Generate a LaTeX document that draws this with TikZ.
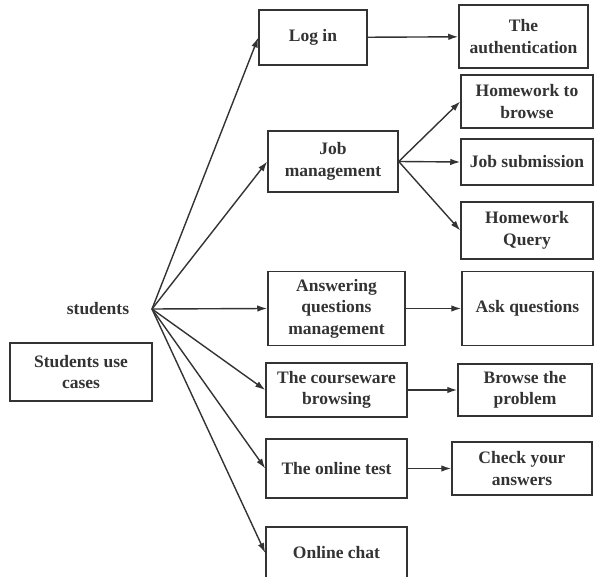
\documentclass[tikz,border=0pt]{standalone}
\usepackage{fontspec}
\setmainfont{Liberation Serif}
\usetikzlibrary{arrows.meta}

\tikzset{
  box/.style={draw=black!80, line width=1.5pt, align=center, inner sep=0pt,
    font=\bfseries\fontsize{17.5}{21.5}\selectfont, text=black!80},
  link/.style={draw=black!80, line width=1.4pt, -{Latex[length=10pt,width=6.5pt]}},
}

\begin{document}
\begin{tikzpicture}[x=1pt,y=-1pt]
\clip (0,0) rectangle (595,577);
\useasboundingbox (0,0) rectangle (595,577);
\node[font=\bfseries\fontsize{17.5}{21.5}\selectfont, text=black!80] (students) at (98,309) {students};
\coordinate (hub) at (152,309);
\node[box, minimum width=142, minimum height=58] (usecases) at (81,372) {Students use\\cases};

\node[box, minimum width=108, minimum height=55] (login) at (313,37.5) {Log in};
\node[box, minimum width=130, minimum height=61] (job) at (333,161.5) {Job\\management};
\node[box, minimum width=137, minimum height=74] (answer) at (336.5,308.5) {Answering\\questions\\management};
\node[box, minimum width=141, minimum height=54] (course) at (336.5,390) {The courseware\\browsing};
\node[box, minimum width=141, minimum height=59] (test) at (336.5,468.5) {The online test};
\node[box, minimum width=141, minimum height=52] (chat) at (336.5,553) {Online chat};

\node[box, minimum width=129, minimum height=63] (auth) at (523.5,36.5) {The\\authentication};
\node[box, minimum width=132, minimum height=53] (hwbrowse) at (527,101.5) {Homework to\\browse};
\node[box, minimum width=132, minimum height=46] (jobsub) at (527,162) {Job submission};
\node[box, minimum width=132, minimum height=57] (hwquery) at (527,230.5) {Homework\\Query};
\node[box, minimum width=131, minimum height=74] (ask) at (527.5,308.5) {Ask questions};
\node[box, minimum width=134, minimum height=52] (browseprob) at (525,390) {Browse the\\problem};
\node[box, minimum width=140, minimum height=53] (check) at (522,468.5) {Check your\\answers};

% from the students
\draw[link] (hub) -- (login.west);
\draw[link] (hub) -- (job.west);
\draw[link] (hub) -- (answer.west);
\draw[link] (hub) -- (course.west);
\draw[link] (hub) -- (test.west);
\draw[link] (hub) -- (chat.west);

% second level
\draw[link] (login) -- (auth);
\draw[link] (job.east) -- (hwbrowse.west);
\draw[link] (job.east) -- (jobsub.west);
\draw[link] (job.east) -- (hwquery.west);
\draw[link] (answer) -- (ask);
\draw[link] (course) -- (browseprob);
\draw[link] (test) -- (check);
\end{tikzpicture}
\end{document}
